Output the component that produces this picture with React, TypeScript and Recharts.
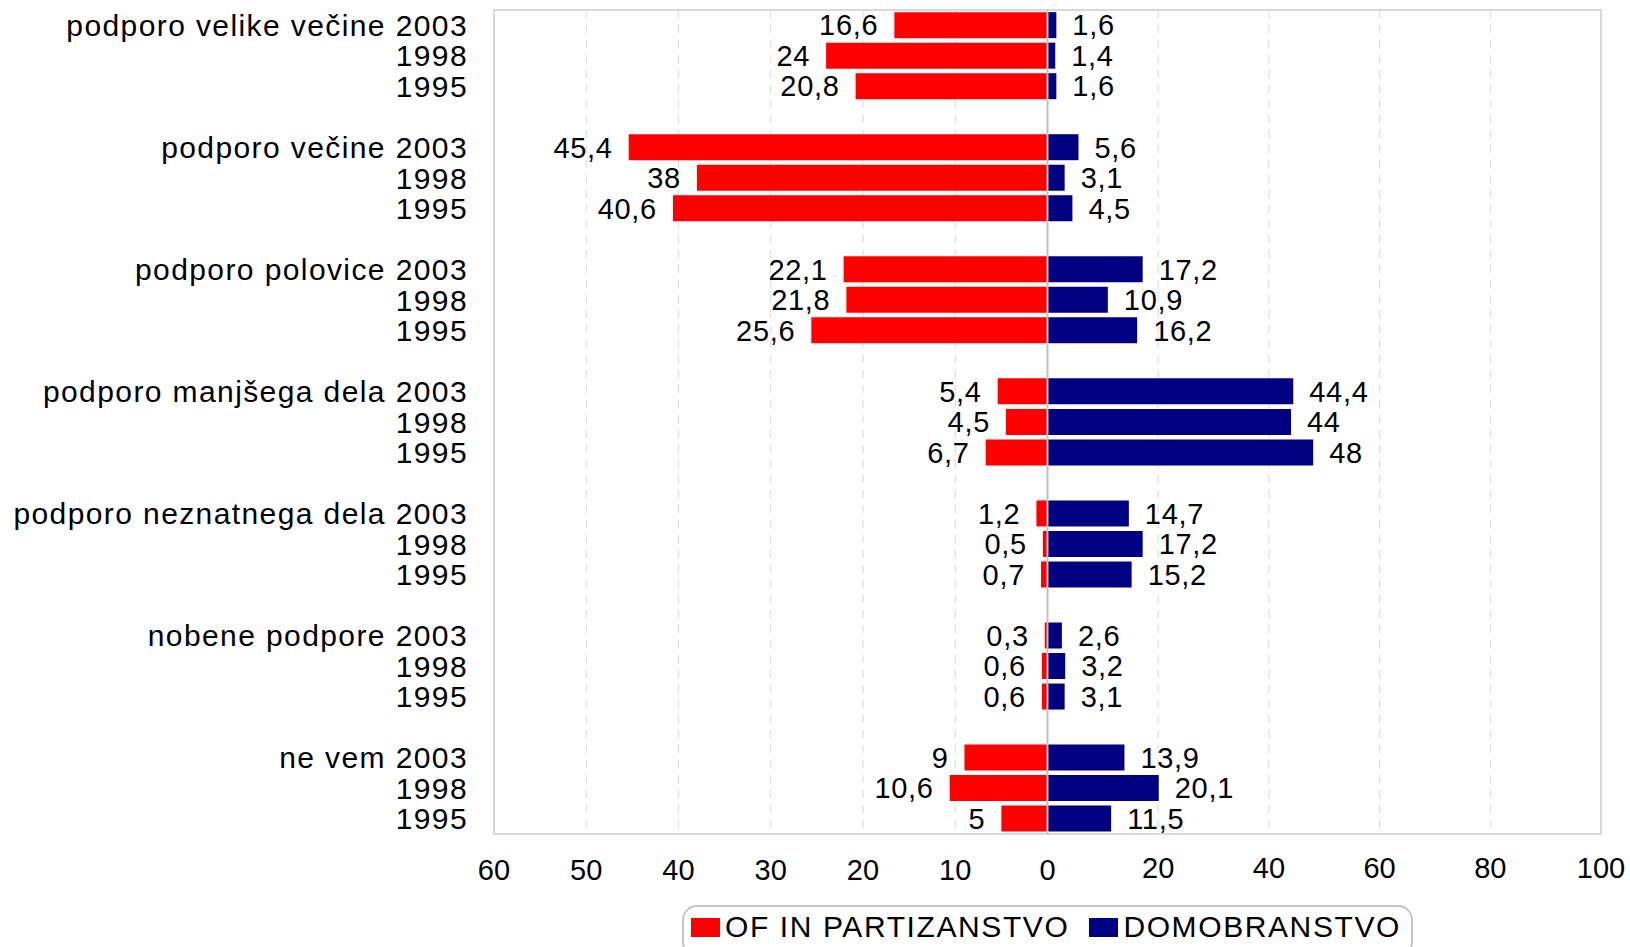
import {
  Bar,
  BarChart,
  CartesianGrid,
  LabelList,
  Legend,
  ReferenceArea,
  ReferenceLine,
  XAxis,
  YAxis,
} from "recharts";

const groups = [
  "podporo velike večine",
  "podporo večine",
  "podporo polovice",
  "podporo manjšega dela",
  "podporo neznatnega dela",
  "nobene podpore",
  "ne vem",
];
const years = ["2003", "1998", "1995"];

// per group: 2003, 1998, 1995
const partizanstvo = [
  16.6, 24, 20.8,
  45.4, 38, 40.6,
  22.1, 21.8, 25.6,
  5.4, 4.5, 6.7,
  1.2, 0.5, 0.7,
  0.3, 0.6, 0.6,
  9, 10.6, 5,
];
const domobranstvo = [
  1.6, 1.4, 1.6,
  5.6, 3.1, 4.5,
  17.2, 10.9, 16.2,
  44.4, 44, 48,
  14.7, 17.2, 15.2,
  2.6, 3.2, 3.1,
  13.9, 20.1, 11.5,
];

const seriesNames = ["OF IN PARTIZANSTVO", "DOMOBRANSTVO"];
const leftTicks = [-60, -50, -40, -30, -20, -10, 0];
const rightTicks = [20, 40, 60, 80, 100];

type Row = { key: string; label: string; of?: number; dom?: number };

const rows: Row[] = [];
groups.forEach((g, i) => {
  years.forEach((y, j) => {
    const k = i * 3 + j;
    rows.push({
      key: `r${k}`,
      label: j === 0 ? `${g} ${y}` : y,
      of: -partizanstvo[k],
      dom: domobranstvo[k],
    });
  });
  if (i < groups.length - 1) rows.push({ key: `gap${i}`, label: "" });
});

const labelOf: Record<string, string> = {};
rows.forEach((r) => (labelOf[r.key] = r.label));

const FONT = '"Liberation Sans", Arial, sans-serif';
const RED = "#ff0000";
const NAVY = "#000080";

const fmt = (v: any) =>
  v == null || v === "" ? "" : String(Math.abs(Number(v))).replace(".", ",");

const renderLegend = ({ payload }: any) => {
  const items = [...(payload || [])].sort(
    (a: any, b: any) => seriesNames.indexOf(a.value) - seriesNames.indexOf(b.value)
  );
  return (
    <div style={{ display: "flex", justifyContent: "center" }}>
      <div
        style={{
          display: "flex",
          alignItems: "center",
          border: "2px solid #c4c4c4",
          borderRadius: 15,
          padding: "5px 10px 13px 7px",
          fontFamily: FONT,
          fontSize: 30,
          letterSpacing: 1.6,
          lineHeight: "30px",
          color: "#000",
        }}
      >
        {items.map((p: any, i: number) => (
          <span
            key={i}
            style={{ display: "flex", alignItems: "center", marginRight: i === 0 ? 20 : 0 }}
          >
            <span
              style={{
                width: 29,
                height: 19,
                background: p.color,
                marginRight: 5,
                display: "inline-block",
              }}
            />
            <span>{p.value}</span>
          </span>
        ))}
      </div>
    </div>
  );
};

const tickStyle = { fill: "#000", fontSize: 29, fontFamily: FONT };

export default function App() {
  return (
    <div style={{ position: "absolute", left: 0, top: 0, fontFamily: FONT }}>
      <BarChart
        width={1630}
        height={947}
        data={rows}
        layout="vertical"
        margin={{ top: 10, right: 29, bottom: 111, left: 0 }}
        barCategoryGap="7%"
      >
        <CartesianGrid
          xAxisId="of"
          yAxisId="cat"
          horizontal={false}
          stroke="#d9d9d9"
          strokeDasharray="8 7"
        />
        <CartesianGrid
          xAxisId="dom"
          yAxisId="cat"
          horizontal={false}
          stroke="#d9d9d9"
          strokeDasharray="8 7"
        />
        <ReferenceArea
          xAxisId="of"
          yAxisId="cat"
          x1={-60}
          x2={60}
          fill="none"
          stroke="#d9d9d9"
          strokeWidth={2}
        />
        <XAxis
          xAxisId="of"
          type="number"
          domain={[-60, 60]}
          ticks={leftTicks}
          interval={0}
          tickFormatter={fmt}
          height={1}
          tickSize={0}
          tickMargin={24}
          axisLine={false}
          tickLine={false}
          tick={tickStyle}
        />
        <XAxis
          xAxisId="dom"
          type="number"
          domain={[-100, 100]}
          ticks={rightTicks}
          interval={0}
          tickFormatter={fmt}
          height={1}
          tickSize={0}
          tickMargin={23}
          axisLine={false}
          tickLine={false}
          tick={tickStyle}
        />
        <YAxis
          yAxisId="cat"
          type="category"
          dataKey="key"
          width={494}
          interval={0}
          tickFormatter={(k: string) => labelOf[k] ?? ""}
          axisLine={false}
          tickLine={false}
          tickSize={0}
          tickMargin={26}
          tick={{ fill: "#000", fontSize: 30, fontFamily: FONT, letterSpacing: 1.4 }}
        />
        <YAxis yAxisId="cat2" type="category" dataKey="key" hide />
        <Bar
          xAxisId="of"
          yAxisId="cat"
          dataKey="of"
          name={seriesNames[0]}
          fill={RED}
          isAnimationActive={false}
        >
          <LabelList
            dataKey="of"
            position="right"
            offset={16}
            formatter={fmt}
            fill="#000"
            fontSize={29}
            fontFamily={FONT}
            letterSpacing={0.7}
          />
        </Bar>
        <Bar
          xAxisId="dom"
          yAxisId="cat2"
          dataKey="dom"
          name={seriesNames[1]}
          fill={NAVY}
          isAnimationActive={false}
        >
          <LabelList
            dataKey="dom"
            position="right"
            offset={16}
            formatter={fmt}
            fill="#000"
            fontSize={29}
            fontFamily={FONT}
            letterSpacing={0.7}
          />
        </Bar>
        <ReferenceLine xAxisId="of" yAxisId="cat" x={0} stroke="#bfbfbf" strokeWidth={2} />
        <Legend
          verticalAlign="middle"
          align="center"
          content={renderLegend}
          wrapperStyle={{ top: 905, left: 494, width: 1107 }}
        />
      </BarChart>
    </div>
  );
}
